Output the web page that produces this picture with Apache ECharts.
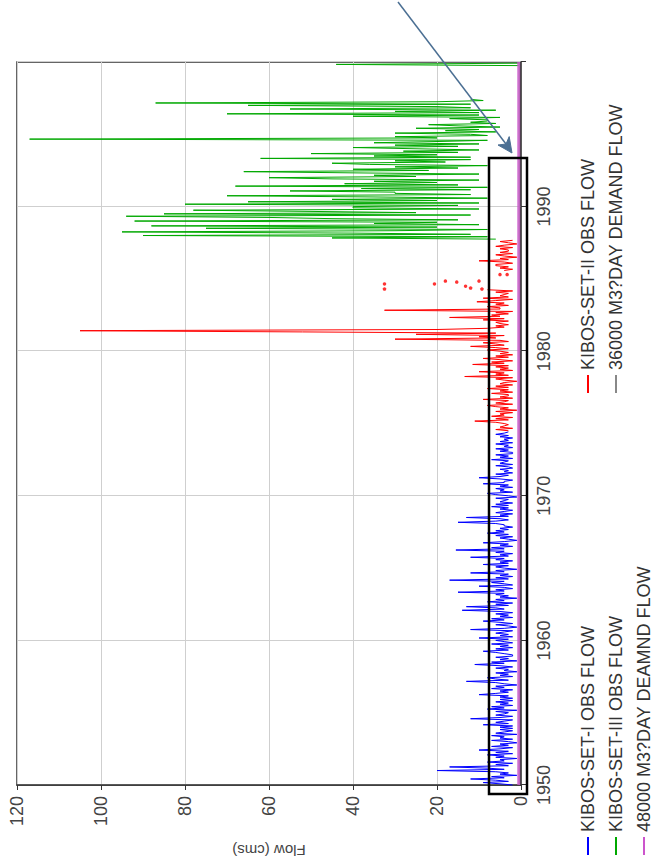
<!DOCTYPE html>
<html>
<head>
<meta charset="utf-8">
<script src="https://cdn.jsdelivr.net/npm/echarts@6/dist/echarts.min.js"></script>
<style>
html,body{margin:0;padding:0;background:#fff;overflow:hidden;width:664px;height:866px;}
#chart{position:absolute;left:0;top:0;width:866px;height:664px;transform-origin:0 0;transform:translateY(866px) rotate(-90deg);}
</style>
</head>
<body>
<div id="chart"></div>
<script>
// ---- data (flow in cms), monthly readings ----
const samplesPerYear = 12;
const yearTicks = [1950, 1960, 1970, 1980, 1990];
const flowTicks = [0, 20, 40, 60, 80, 100, 120];

const set1Start = 1950.0;
const set1Flow = [
  2,5,9,3,6,12,4,7,1,5,3,6,
  20,4,8,17,3,6,2,8,4,5,1,6,
  4,8,2,6,3,10,5,2,7,3,5,1,
  3,7,2,5,4,7,1,6,4,2,5,2,
  5,2,9,3,6,4,2,12,5,2,6,4,
  3,6,1,8,4,7,2,5,3,6,2,5,
  2,5,3,10,6,3,5,2,7,4,6,1,
  4,6,13,3,6,8,2,5,3,6,1,4,
  3,6,2,5,11,4,7,1,5,3,6,2,
  2,4,6,9,3,6,2,5,3,7,2,4,
  6,3,10,2,5,3,6,4,2,12,4,1,
  3,6,2,5,9,4,7,2,5,3,6,2,
  5,14,4,6,13,3,6,2,8,4,6,1,
  5,3,6,4,15,4,6,2,4,10,2,4,
  7,4,17,3,6,2,5,3,12,4,6,1,
  4,6,3,9,3,5,2,6,4,12,3,5,
  2,6,4,15.5,4,7,2,5,3,9,4,1,
  3,5,2,6,3,8,4,6,3,5,2,4,
  4,6,15,6,3,5,13,3,5,2,6,4,
  2,5,3,7,3,6,2,5,4,3,6,1,
  3,6,8,2,5,4,6,2,5,3,9,4,
  4,2,5,10,5,3,6,2,4,3,5,2,
  3,6,2,5,4,3,7,2,5,3,6,2,
  2,5,3,6,2,4,3,6,2,5,3,4,
  2,5,3,6,4,3
];

const set2Start = 1974.5;
const set2Flow = [
  3,6,2,5,4,3,
  4,6,11,3,6,2,7,4,5,2,6,1,
  5,3,6,8,2,6,4,3,9,2,5,3,
  3,7,2,5,3,8,3,6,2,5,4,1,
  4,6,2,13.4,3,6,4,10,2,5,3,6,
  3,11.5,4,7,2,5,9,3,6,2,5,3,
  5,8,3,6,12,4,6,9,3,5,30,6,
  10,4,25,6,52,105,20,8,4,6,3,5,
  6,3,9,4,17,5,7,3,6,2,32.5,5,
  5,8,3,6,4,10.5,6,2,9,3,5,4,
  3,6,2,8,null,null,null,null,null,null,null,null,
  null,null,null,null,null,null,null,4,2,5,3,6,
  6,2,4,10,3,5,1,4,6,2,5,3,
  3,5,2,6,4,1,3,5,2
];
// isolated readings of KIBOS-SET-II around 1984-85
const set2DotYears = [1984.3, 1984.65, 1984.65, 1984.85, 1984.78, 1984.5, 1984.37, 1984.85, 1984.3, 1985.3, 1985.3];
const set2DotFlow  = [32.5, 32.5, 20.6, 18, 15.3, 13.2, 12, 10, 9.3, 5, 3.3];

const set3Start = 1987.75;
const set3Flow = [
  6,45,8,
  90,12,40,95,30,8,75,20,88,10,35,20,
  92,15,45,60,94,12,85,25,50,78,10,40,
  40,15,80,10,65,20,45,8,35,70,12,30,
  30,55,12,38,8,68,15,42,20,35,10,45,
  60,25,35,10,40,66,22,40,15,30,8,36,
  45,18,30,12,62,12,35,20,50,15,28,10,
  25,40,15,30,10,35,20,8,117,20,30,8,
  12,30,6,18,10,25,5,15,22,6,12,8,
  8,17,5,40,10,70,10,30,6,55,12,20,
  65,12,87,20,9,12,null,null,null,null,null,null,
  null,null,null,null,null,null,null,null,null,null,null,null,
  null,null,null,null,null,null,null,null,null,0.5,44,0.5
];

const demandYears = [1950, 2000];
const demand36000 = [0.4167, 0.4167];
const demand48000 = [0.5556, 0.5556];

const names = {
  s1: 'KIBOS-SET-I OBS FLOW',
  s2: 'KIBOS-SET-II OBS FLOW',
  s3: 'KIBOS-SET-III OBS FLOW',
  d36: '36000 M3?DAY DEMAND FLOW',
  d48: '48000 M3?DAY DEAMND FLOW'
};

function toPairs(start, vals) {
  return vals.map((v, i) => [start + i / samplesPerYear, v]);
}
function zip(xs, ys) { return xs.map((x, i) => [x, ys[i]]); }

const FONT = '"Liberation Sans", Arial, sans-serif';
const chart = echarts.init(document.getElementById('chart'), null, {renderer: 'svg'});

const lineBase = {type: 'line', showSymbol: false, symbol: 'none', connectNulls: false, animation: false, lineStyle: {width: 1}};

chart.setOption({
  animation: false,
  backgroundColor: '#fff',
  grid: {left: 78, right: 62, top: 17, bottom: 143, show: true, borderColor: '#333', borderWidth: 1.5, containLabel: false},
  xAxis: {
    type: 'value', min: 1950, max: 2000, interval: 10,
    axisLine: {show: true, lineStyle: {color: '#333', width: 1.5}},
    axisTick: {show: true, inside: false, length: 5, lineStyle: {color: '#333'}},
    axisLabel: {margin: 14, fontSize: 18, fontFamily: FONT, color: '#444',
      formatter: v => (yearTicks.indexOf(v) >= 0 ? String(v) : '')},
    splitLine: {show: true, lineStyle: {color: '#cfcfcf', width: 1}}
  },
  yAxis: {
    type: 'value', min: 0, max: 120, interval: 20,
    name: 'Flow (cms)', nameLocation: 'middle', nameGap: 58, nameRotate: 90,
    nameTextStyle: {fontSize: 15, fontFamily: FONT, color: '#444'},
    axisLine: {show: true, lineStyle: {color: '#333', width: 1.5}},
    axisTick: {show: true, inside: false, length: 5, lineStyle: {color: '#333'}},
    axisLabel: {margin: 11, fontSize: 18, fontFamily: FONT, color: '#444',
      formatter: v => (flowTicks.indexOf(v) >= 0 ? String(v) : '')},
    splitLine: {show: true, lineStyle: {color: '#cfcfcf', width: 1}}
  },
  legend: [
    {orient: 'vertical', left: 6, top: 574, itemWidth: 18, itemHeight: 2, itemGap: 10, icon: 'rect',
     textStyle: {fontSize: 18, fontFamily: FONT, color: '#333', lineHeight: 18},
     data: [names.s1, names.s3, names.d48]},
    {orient: 'vertical', left: 468, top: 574, itemWidth: 18, itemHeight: 2, itemGap: 10, icon: 'rect',
     textStyle: {fontSize: 18, fontFamily: FONT, color: '#333', lineHeight: 18},
     data: [names.s2, names.d36]}
  ],
  series: [
    Object.assign({}, lineBase, {name: names.s1, color: '#0000ff', data: toPairs(set1Start, set1Flow)}),
    Object.assign({}, lineBase, {name: names.s2, color: '#ff0000', data: toPairs(set2Start, set2Flow)}),
    {type: 'scatter', name: names.s2, color: '#ff0000', symbolSize: 3.5, data: zip(set2DotYears, set2DotFlow), animation: false},
    Object.assign({}, lineBase, {name: names.s3, color: '#00a800', data: toPairs(set3Start, set3Flow)}),
    Object.assign({}, lineBase, {name: names.d36, color: '#888888', data: zip(demandYears, demand36000), lineStyle: {width: 1.5}}),
    Object.assign({}, lineBase, {name: names.d48, color: '#cc55cc', data: zip(demandYears, demand48000), lineStyle: {width: 3, opacity: 0.75}})
  ],
  graphic: [
    {type: 'rect', z: 100, shape: {x: 72, y: 489, width: 636, height: 38},
     style: {fill: 'none', stroke: '#000', lineWidth: 2.5}},
    {type: 'line', z: 100, shape: {x1: 864, y1: 398, x2: 720, y2: 507.5},
     style: {stroke: '#4b6f93', lineWidth: 1.5}},
    {type: 'polygon', z: 100, shape: {points: [[713, 512], [729.4, 509.2], [722, 506], [721.0, 498.0]]},
     style: {fill: '#4b6f93', stroke: '#4b6f93', lineWidth: 1}}
  ]
});
</script>
</body>
</html>
